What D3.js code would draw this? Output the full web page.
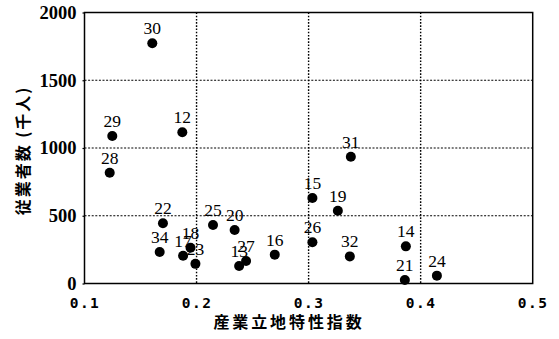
<!DOCTYPE html>
<html><head><meta charset="utf-8">
<script src="https://cdn.jsdelivr.net/npm/d3@7"></script>
<style>body{margin:0;background:#fff}svg{display:block}</style>
</head><body>
<svg id="c" width="559" height="339"></svg>
<script>
const ids = ["30","29","12","28","22","34","17","18","23","25","20","13","27","16","15","26","31","19","32","14","21","24"];
const xVals = [0.1605,0.1248,0.1873,0.1225,0.170,0.1671,0.188,0.1946,0.199,0.2147,0.234,0.238,0.2442,0.2698,0.3034,0.3034,0.3377,0.3261,0.3368,0.3868,0.3859,0.4145];
const yVals = [1773,1089,1116,818,444,232,205,264,145,432,395,129,166,213,631,304,936,537,200,274,26,58];
const xTicks = [0.1,0.2,0.3,0.4,0.5];
const xTickLabels = ["0.1","0.2","0.3","0.4","0.5"];
const yTicks = [0,500,1000,1500,2000];
const xTitle = "産業立地特性指数";
const yTitle = "従業者数 (千人)";

const svg = d3.select("#c");
const L=84.5, R=532.7, T=12.5, B=283.5;
const x = d3.scaleLinear().domain([0.1,0.5]).range([L,R]);
const y = d3.scaleLinear().domain([0,2000]).range([B,T]);
const numFont = "'Liberation Serif','DejaVu Serif',serif";
const monoFont = "'DejaVu Sans Mono','Liberation Mono',monospace";
const cjkFont = "'Noto Sans CJK JP','Noto Sans CJK SC',sans-serif";

// grid
const g = svg.append("g");
g.selectAll("line.vx").data(xTicks.slice(1,-1)).join("line")
  .attr("x1",d=>x(d)).attr("x2",d=>x(d)).attr("y1",T).attr("y2",B)
  .attr("stroke","#000").attr("stroke-width",1.4).attr("stroke-dasharray","1.6,1.6");
g.selectAll("line.hy").data(yTicks.slice(1,-1)).join("line")
  .attr("x1",L).attr("x2",R).attr("y1",d=>y(d)).attr("y2",d=>y(d))
  .attr("stroke","#000").attr("stroke-width",1.2).attr("stroke-dasharray","2,1.6");
// frame
svg.append("rect").attr("x",L).attr("y",T).attr("width",R-L).attr("height",B-T)
  .attr("fill","none").attr("stroke","#000").attr("stroke-width",1.5);

// axes
const xa = svg.append("g").attr("transform",`translate(0,${B})`)
  .call(d3.axisBottom(x).tickValues(xTicks).tickSize(0).tickFormat((d,i)=>xTickLabels[i]));
xa.select(".domain").remove();
xa.selectAll("text").attr("dy",null).attr("y",24.5)
  .attr("font-family",monoFont).attr("font-size",14.5).attr("font-weight","bold")
  .attr("letter-spacing",1.5).attr("fill","#000");

const ya = svg.append("g").attr("transform",`translate(${L},0)`)
  .call(d3.axisLeft(y).tickValues(yTicks).tickSize(2).tickPadding(6).tickFormat(d3.format("d")));
ya.select(".domain").remove();
ya.selectAll("line").attr("stroke","#000").attr("stroke-width",1.2);
ya.selectAll("text").attr("font-family",numFont).attr("font-size",18.5).attr("font-weight","bold").attr("fill","#000");

// titles
svg.append("text").attr("x",289).attr("y",328).attr("text-anchor","middle")
  .attr("font-family",cjkFont).attr("font-size",16).attr("font-weight","bold")
  .attr("letter-spacing",2.9).text(xTitle);
svg.append("text").attr("transform","translate(28.5,150.5) rotate(-90)").attr("text-anchor","middle")
  .attr("font-family",cjkFont).attr("font-size",16).attr("font-weight","bold")
  .attr("letter-spacing",2).text(yTitle);

// points
const pts = ids.map((id,i)=>({id, xv:xVals[i], yv:yVals[i]}));
svg.append("g").selectAll("circle").data(pts).join("circle")
  .attr("cx",d=>x(d.xv)).attr("cy",d=>y(d.yv)).attr("r",5).attr("fill","#000");
svg.append("g").selectAll("text").data(pts).join("text")
  .attr("x",d=>x(d.xv)).attr("y",d=>y(d.yv)-9).attr("text-anchor","middle")
  .attr("font-family",numFont).attr("font-size",17.5).attr("fill","#000").text(d=>d.id);
</script>
</body></html>
